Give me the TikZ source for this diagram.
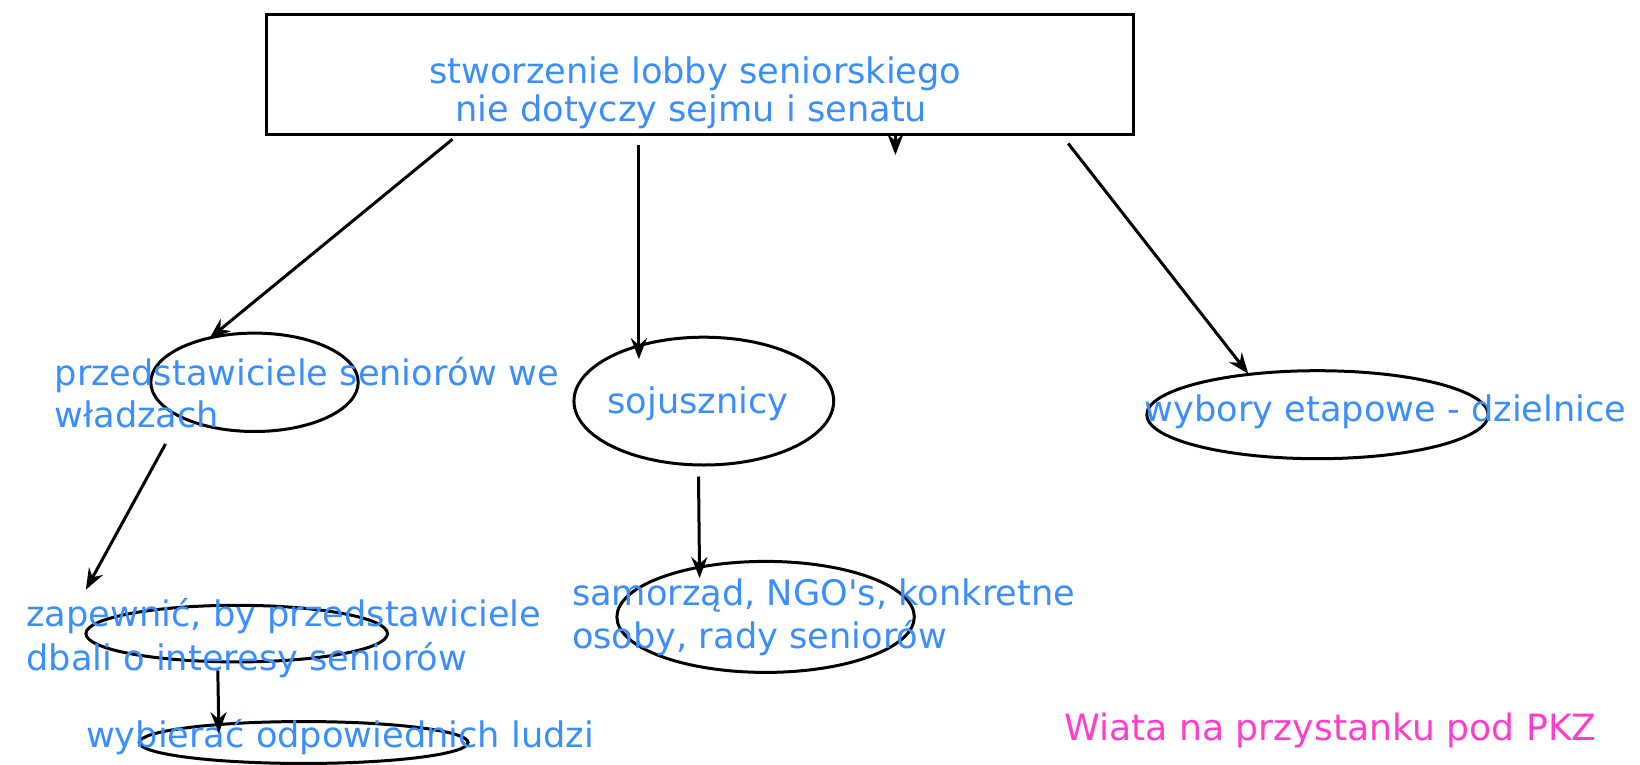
\documentclass[tikz,border=0pt]{standalone}
\usepackage{fontspec}
\setmainfont{DejaVu Sans}
\usetikzlibrary{shapes.geometric,arrows.meta}
\definecolor{txtblue}{HTML}{3A8EFF}
\definecolor{txtpink}{HTML}{FF3DCB}
\begin{document}
\begin{tikzpicture}[x=1pt,y=-1pt,
 oval/.style={draw, ellipse, line width=3pt, inner sep=0pt},
 lbl/.style={inner sep=0pt, text=txtblue, font=\fontsize{35.2}{42}\selectfont},
 conn/.style={line width=3pt, -{Stealth[length=21pt,width=16pt,inset=7pt]}}]
\useasboundingbox[fill=white] (0,0) rectangle (1640,765);
% top box
\node[draw, line width=3pt, minimum width=867pt, minimum height=119.4pt, inner sep=0pt] (top) at (699.6,74.4) {};
\node[lbl, anchor=base] (t0a) at (695.4,83.8) {stworzenie lobby seniorskiego};
\node[lbl, anchor=base] (t0b) at (691.2,121.5) {nie dotyczy sejmu i senatu};
% ellipses
\node[oval, minimum width=207.4pt, minimum height=98.4pt] (e1) at (254.5,382.3) {};
\node[oval, minimum width=259.7pt, minimum height=127.8pt] (e2) at (703.8,401.1) {};
\node[oval, minimum width=297.4pt, minimum height=111pt] (e3) at (765.6,616.9) {};
\node[oval, minimum width=341.4pt, minimum height=88pt] (e4) at (1317.5,414.7) {};
\node[oval, minimum width=301.6pt, minimum height=56.6pt] (e5) at (236.7,633.6) {};
\node[oval, minimum width=328.9pt, minimum height=41.9pt] (e6) at (303.7,742.5) {};
% texts
\node[lbl, anchor=base west] (t1a) at (54.5,385.4) {przedstawiciele seniorów we};
\node[lbl, anchor=base west] (t1b) at (54.5,427.3) {władzach};
\node[lbl, anchor=base west] (t2) at (607.4,413.7) {sojusznicy};
\node[lbl, anchor=base west] (t3a) at (571.8,605.3) {samorząd, NGO\textquotesingle s, konkretne};
\node[lbl, anchor=base west] (t3b) at (571.8,648.3) {osoby, rady seniorów};
\node[lbl, anchor=base west] (t4) at (1144.7,421) {wybory etapowe - dzielnice};
\node[lbl, anchor=base west] (t5a) at (26.2,626.3) {zapewnić, by przedstawiciele};
\node[lbl, anchor=base west] (t5b) at (26.2,670.3) {dbali o interesy seniorów};
\node[lbl, anchor=base west] (t6) at (85.9,747.8) {wybierać odpowiednich ludzi};
\node[lbl, anchor=base west, text=txtpink, font=\fontsize{36.2}{42}\selectfont] (t7) at (1064,740.4) {Wiata na przystanku pod PKZ};
% connector ends
\coordinate (a1s) at (452.4,139.3); \coordinate (a1e) at (209.5,338.3);
\coordinate (a2s) at (638.9,144.5); \coordinate (a2e) at (638.9,359.2);
\coordinate (a3s) at (895.4,133); \coordinate (a3e) at (895.4,155);
\coordinate (a4s) at (1068.2,143.5); \coordinate (a4e) at (1248.4,373.9);
\coordinate (a5s) at (165.5,444); \coordinate (a5e) at (85.9,589.6);
\coordinate (a6s) at (698.5,476.5); \coordinate (a6e) at (699.6,578.1);
\coordinate (a7s) at (217.8,670.3); \coordinate (a7e) at (218.9,733.1);
\draw[conn] (a1s) -- (a1e);
\draw[conn] (a2s) -- (a2e);
\draw[conn] (a3s) -- (a3e);
\draw[conn] (a4s) -- (a4e);
\draw[conn] (a5s) -- (a5e);
\draw[conn] (a6s) -- (a6e);
\draw[conn] (a7s) -- (a7e);
\end{tikzpicture}
\end{document}
